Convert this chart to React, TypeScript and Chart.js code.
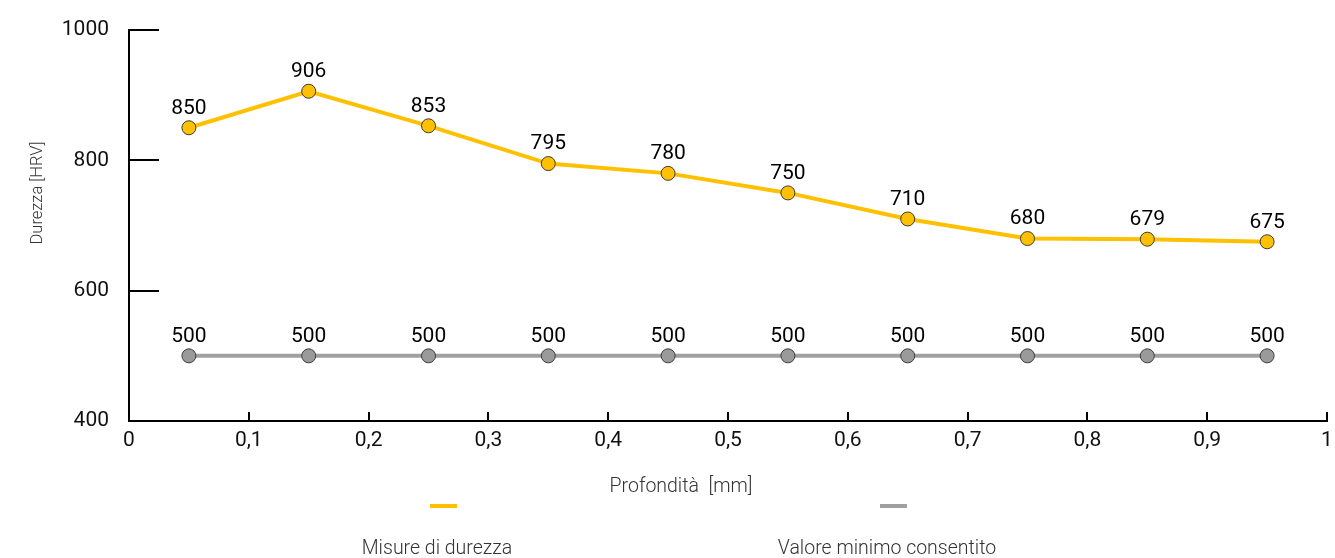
import React, { useEffect, useRef } from "react";
import { Chart, registerables } from "chart.js";

Chart.register(...registerables);

const depths = [0.05, 0.15, 0.25, 0.35, 0.45, 0.55, 0.65, 0.75, 0.85, 0.95];
const hardness = [850, 906, 853, 795, 780, 750, 710, 680, 679, 675];
const minimum = [500, 500, 500, 500, 500, 500, 500, 500, 500, 500];
const seriesNames = ["Misure di durezza", "Valore minimo consentito"];
const seriesColors = ["#FFC000", "#A0A0A0"];
const yTitle = "Durezza [HRV]";
const xTitle = "Profondità  [mm]";

const FONT = "Roboto, 'Noto Sans', sans-serif";

const customDraw = {
  id: "customDraw",
  afterDatasetsDraw(chart: any) {
    const ctx = chart.ctx;
    const xs = chart.scales.x;
    const ys = chart.scales.y;
    const area = chart.chartArea;
    ctx.save();
    // inward ticks
    ctx.strokeStyle = "#000";
    ctx.lineWidth = 2;
    ys.ticks.forEach((t: any) => {
      const y = Math.round(ys.getPixelForValue(t.value));
      ctx.beginPath();
      ctx.moveTo(area.left, y);
      ctx.lineTo(area.left + 30, y);
      ctx.stroke();
    });
    xs.ticks.forEach((t: any) => {
      const x = Math.round(xs.getPixelForValue(t.value));
      ctx.beginPath();
      ctx.moveTo(x, area.bottom);
      ctx.lineTo(x, area.bottom - 9);
      ctx.stroke();
    });
    // data labels
    ctx.fillStyle = "#000";
    ctx.font = `21px ${FONT}`;
    ctx.textAlign = "center";
    ctx.textBaseline = "bottom";
    chart.data.datasets.forEach((ds: any, i: number) => {
      const meta = chart.getDatasetMeta(i);
      meta.data.forEach((pt: any, j: number) => {
        ctx.fillText(String(ds.data[j].y), pt.x, pt.y - 9);
      });
    });
    // axis titles
    ctx.fillStyle = "#333";
    ctx.font = `300 16.5px ${FONT}`;
    ctx.textBaseline = "middle";
    ctx.save();
    ctx.translate(38, 193);
    ctx.rotate(-Math.PI / 2);
    ctx.fillText(yTitle, 0, 0);
    ctx.restore();
    ctx.font = `300 19.5px ${FONT}`;
    ctx.fillText(xTitle, 681, 487);
    // legend
    const legendX = [443, 893];
    seriesNames.forEach((name, i) => {
      ctx.fillStyle = seriesColors[i];
      ctx.fillRect(legendX[i] - 13, 504, 27, 4);
      ctx.fillStyle = "#333";
      ctx.font = `300 19.5px ${FONT}`;
      ctx.fillText(name, legendX[i] - 6, 549);
    });
    ctx.restore();
  },
};

export default function App() {
  const ref = useRef<HTMLCanvasElement | null>(null);
  useEffect(() => {
    const chart = new Chart(ref.current as HTMLCanvasElement, {
      type: "line",
      data: {
        datasets: [
          {
            label: seriesNames[0],
            data: depths.map((d, i) => ({ x: d, y: hardness[i] })),
            borderColor: seriesColors[0],
            backgroundColor: "#FFC000",
            borderWidth: 4,
            pointRadius: 7,
            pointBackgroundColor: "#FFC000",
            pointBorderColor: "#3a3a3a",
            pointBorderWidth: 1,
            tension: 0,
          },
          {
            label: seriesNames[1],
            data: depths.map((d, i) => ({ x: d, y: minimum[i] })),
            borderColor: seriesColors[1],
            backgroundColor: "#9a9a9a",
            borderWidth: 4,
            pointRadius: 7,
            pointBackgroundColor: "#9a9a9a",
            pointBorderColor: "#3a3a3a",
            pointBorderWidth: 1,
            tension: 0,
          },
        ],
      },
      options: {
        animation: false,
        responsive: false,
        maintainAspectRatio: false,
        layout: { padding: { top: 30, right: 0, left: 0, bottom: 0 } },
        plugins: { legend: { display: false }, tooltip: { enabled: false } },
        scales: {
          x: {
            type: "linear",
            min: 0,
            max: 1,
            ticks: {
              stepSize: 0.1,
              color: "#111",
              font: { family: FONT, size: 21 },
              padding: 7,
              maxRotation: 0,
              callback: (v: any) => String(Math.round(Number(v) * 10) / 10).replace(".", ","),
            },
            grid: { display: false, drawTicks: false },
            border: { display: true, color: "#000", width: 2 },
            afterFit: (s: any) => {
              s.height = 137;
              s.paddingLeft = 0;
              s.paddingRight = 7;
            },
          },
          y: {
            min: 400,
            max: 1000,
            ticks: {
              stepSize: 200,
              color: "#111",
              font: { family: FONT, size: 21 },
              padding: 20,
              callback: (v: any) => String(v),
            },
            grid: { display: false, drawTicks: false },
            border: { display: true, color: "#000", width: 2 },
            afterFit: (s: any) => {
              s.width = 129;
              s.paddingTop = 0;
              s.paddingBottom = 0;
            },
          },
        },
      },
      plugins: [customDraw],
    } as any);
    return () => chart.destroy();
  }, []);
  return (
    <div style={{ position: "absolute", left: 0, top: 0, width: 1335, height: 558, background: "#fff" }}>
      <canvas ref={ref} width={1335} height={558} style={{ width: 1335, height: 558 }} />
    </div>
  );
}
